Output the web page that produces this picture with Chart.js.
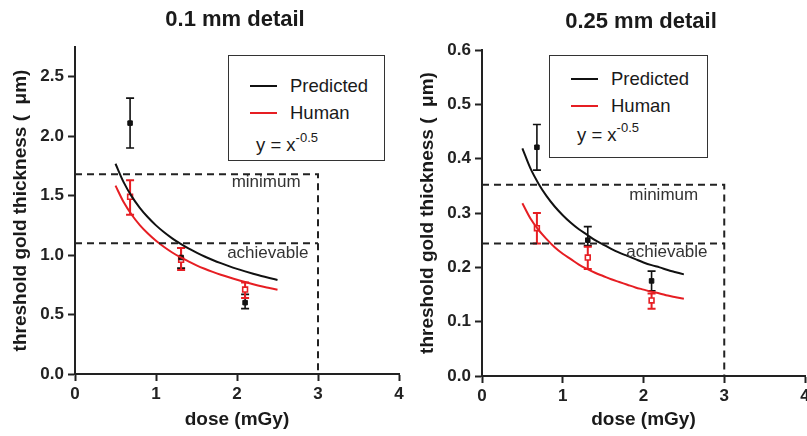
<!DOCTYPE html>
<html>
<head>
<meta charset="utf-8">
<script src="https://cdn.jsdelivr.net/npm/chart.js@4/dist/chart.umd.min.js"></script>
<style>
  html, body { margin: 0; padding: 0; background: #fff; overflow: hidden; width: 807px; height: 436px; }
  body { position: relative; font-family: "Liberation Sans", Arial, sans-serif; }
  canvas { position: absolute; top: 0; }
  .title { position: absolute; font-weight: bold; font-size: 22px; color: #1a1a1a; white-space: nowrap; transform: translateX(-50%); }
  .legend { position: absolute; border: 1.5px solid #333; box-sizing: border-box; background: #fff; }
  .lg-line { position: absolute; height: 2px; }
  .lg-text { position: absolute; font-size: 18.5px; color: #1a1a1a; white-space: nowrap; line-height: 20px; }
  .lg-text sup { font-size: 13px; position: relative; top: -2px; }
</style>
</head>
<body>
<canvas id="c1" width="420" height="436" style="left:0px"></canvas>
<canvas id="c2" width="420" height="436" style="left:400px"></canvas>

<div class="title" style="left:235px; top:6px;">0.1 mm detail</div>
<div class="title" style="left:641px; top:8px;">0.25 mm detail</div>

<div class="legend" style="left:228px; top:55px; width:157px; height:106px;"></div>
<div class="lg-line" style="left:250px; top:85px; width:27px; background:#111;"></div>
<div class="lg-text" style="left:290px; top:76px;">Predicted</div>
<div class="lg-line" style="left:250px; top:112px; width:27px; background:rgb(230,30,35);"></div>
<div class="lg-text" style="left:290px; top:103px;">Human</div>
<div class="lg-text" style="left:256px; top:130px;">y = x<sup>-0.5</sup></div>

<div class="legend" style="left:549px; top:55px; width:159px; height:103px;"></div>
<div class="lg-line" style="left:571px; top:78px; width:27px; background:#111;"></div>
<div class="lg-text" style="left:611px; top:69px;">Predicted</div>
<div class="lg-line" style="left:571px; top:105px; width:27px; background:rgb(230,30,35);"></div>
<div class="lg-text" style="left:611px; top:96px;">Human</div>
<div class="lg-text" style="left:577px; top:120px;">y = x<sup>-0.5</sup></div>

<script>
// ---------- DATA ----------
const doses = [0.68, 1.31, 2.10];

// 0.1 mm detail
const pred01      = [2.11, 0.98, 0.60];
const pred01Low   = [1.90, 0.89, 0.55];
const pred01High  = [2.32, 1.06, 0.67];
const human01     = [1.49, 0.96, 0.71];
const human01Low  = [1.34, 0.875, 0.64];
const human01High = [1.63, 1.06, 0.77];

// 0.25 mm detail
const pred025      = [0.421, 0.250, 0.175];
const pred025Low   = [0.379, 0.240, 0.157];
const pred025High  = [0.463, 0.275, 0.193];
const human025     = [0.272, 0.218, 0.139];
const human025Low  = [0.244, 0.197, 0.124];
const human025High = [0.300, 0.238, 0.152];

// fitted curves (y = a * x^-0.5)
const curveX = [0.5,0.6,0.7,0.8,0.9,1.0,1.1,1.2,1.3,1.4,1.5,1.6,1.7,1.8,1.9,2.0,2.1,2.2,2.3,2.4,2.5];
const curvePred01  = [1.768,1.614,1.494,1.398,1.318,1.250,1.192,1.141,1.096,1.056,1.021,0.988,0.959,0.932,0.907,0.884,0.863,0.843,0.824,0.807,0.791];
const curveHuman01 = [1.584,1.446,1.339,1.252,1.181,1.120,1.068,1.022,0.982,0.947,0.914,0.885,0.859,0.835,0.813,0.792,0.773,0.755,0.738,0.723,0.708];
const curvePred025  = [0.419,0.382,0.354,0.331,0.312,0.296,0.282,0.270,0.260,0.250,0.242,0.234,0.227,0.221,0.215,0.209,0.204,0.200,0.195,0.191,0.187];
const curveHuman025 = [0.318,0.290,0.269,0.252,0.237,0.225,0.215,0.205,0.197,0.190,0.184,0.178,0.173,0.168,0.163,0.159,0.155,0.152,0.148,0.145,0.142];

// threshold levels
const limitDose = 3;
const minimum01 = 1.68, achievable01 = 1.10;
const minimum025 = 0.352, achievable025 = 0.244;

const xTicks = [0, 1, 2, 3, 4];

// ---------- STYLES ----------
const BLACK = '#111111';
const RED = 'rgb(230,30,35)';
const AXIS = '#222222';
const FONT = '"Liberation Sans", Arial, sans-serif';

function pts(xs, ys) { return xs.map((x, i) => ({ x: x, y: ys[i] })); }

const errorBarPlugin = {
  id: 'errorBars',
  beforeDatasetsDraw(chart) {
    const ctx = chart.ctx;
    const xs = chart.scales.x, ys = chart.scales.y;
    chart.data.datasets.forEach((ds) => {
      if (!ds.errLow) return;
      ctx.save();
      ctx.strokeStyle = ds.errColor;
      ctx.lineWidth = ds.errWidth;
      ds.data.forEach((p, i) => {
        const px = xs.getPixelForValue(p.x);
        const lo = ys.getPixelForValue(ds.errLow[i]);
        const hi = ys.getPixelForValue(ds.errHigh[i]);
        const cw = 4;
        ctx.beginPath();
        ctx.moveTo(px, lo); ctx.lineTo(px, hi);
        ctx.moveTo(px - cw, lo); ctx.lineTo(px + cw, lo);
        ctx.moveTo(px - cw, hi); ctx.lineTo(px + cw, hi);
        ctx.stroke();
      });
      ctx.restore();
    });
  }
};

const textPlugin = {
  id: 'levelText',
  afterDatasetsDraw(chart, args, opts) {
    const ctx = chart.ctx;
    const xs = chart.scales.x, ys = chart.scales.y;
    ctx.save();
    ctx.font = '17px ' + FONT;
    ctx.fillStyle = '#333';
    ctx.textAlign = 'center';
    ctx.textBaseline = 'middle';
    (opts.items || []).forEach(it => {
      ctx.fillText(it.text, xs.getPixelForValue(it.x), ys.getPixelForValue(it.y));
    });
    ctx.restore();
  }
};

function makeChart(id, cfg) {
  const datasets = [
    { type: 'line', data: [{x:0,y:cfg.minimum},{x:limitDose,y:cfg.minimum},{x:limitDose,y:0}],
      borderColor: AXIS, borderWidth: 2, borderDash: [7,5], pointRadius: 0, fill: false, tension: 0 },
    { type: 'line', data: [{x:0,y:cfg.achievable},{x:limitDose,y:cfg.achievable}],
      borderColor: AXIS, borderWidth: 2, borderDash: [7,5], pointRadius: 0, fill: false, tension: 0 },
    { type: 'line', data: pts(curveX, cfg.curvePred), borderColor: BLACK, borderWidth: 2,
      pointRadius: 0, fill: false, cubicInterpolationMode: 'monotone' },
    { type: 'line', data: pts(curveX, cfg.curveHuman), borderColor: RED, borderWidth: 2,
      pointRadius: 0, fill: false, cubicInterpolationMode: 'monotone' },
    { type: 'scatter', data: pts(doses, cfg.pred), errLow: cfg.predLow, errHigh: cfg.predHigh,
      errColor: BLACK, errWidth: 1.6, pointStyle: 'rect', pointRadius: 3.2,
      backgroundColor: BLACK, borderColor: BLACK, borderWidth: 1 },
    { type: 'scatter', data: pts(doses, cfg.human), errLow: cfg.humanLow, errHigh: cfg.humanHigh,
      errColor: RED, errWidth: 2, pointStyle: 'rect', pointRadius: 3.4,
      backgroundColor: '#fff', borderColor: RED, borderWidth: 1.6 }
  ];
  return new Chart(document.getElementById(id), {
    type: 'scatter',
    data: { datasets: datasets },
    plugins: [errorBarPlugin, textPlugin],
    options: {
      responsive: false,
      animation: false,
      devicePixelRatio: 1,
      layout: { padding: { left: 0, top: cfg.padTop, right: cfg.padRight, bottom: 0 } },
      plugins: {
        legend: { display: false },
        tooltip: { enabled: false },
        levelText: { items: cfg.labels }
      },
      scales: {
        x: {
          type: 'linear', min: 0, max: 4,
          afterBuildTicks: s => { s.ticks = xTicks.map(v => ({ value: v })); },
          afterFit: s => { s.height = cfg.xHeight; },
          grid: { drawOnChartArea: false, drawTicks: true, tickLength: 7, tickWidth: 2, tickColor: AXIS },
          border: { display: true, color: AXIS, width: 2 },
          ticks: { color: AXIS, padding: 3, font: { family: FONT, size: 17, weight: 'bold' },
                   callback: v => String(v) },
          title: { display: true, text: 'dose (mGy)', color: '#1a1a1a',
                   font: { family: FONT, size: 19, weight: 'bold' }, padding: { top: 0, bottom: 5 } }
        },
        y: {
          type: 'linear', min: 0, max: cfg.yMax,
          afterBuildTicks: s => { s.ticks = cfg.yTicks.map(v => ({ value: v })); },
          afterFit: s => { s.width = cfg.yWidth; },
          grid: { drawOnChartArea: false, drawTicks: true, tickLength: 7, tickWidth: 2, tickColor: AXIS },
          border: { display: true, color: AXIS, width: 2 },
          ticks: { color: AXIS, padding: 4, font: { family: FONT, size: 17, weight: 'bold' },
                   callback: v => Number(v).toFixed(1) },
          title: { display: true, text: 'threshold gold thickness (  μm)', color: '#1a1a1a',
                   font: { family: FONT, size: 19, weight: 'bold' }, padding: { top: cfg.yTitlePad, bottom: 0 } }
        }
      }
    }
  });
}

makeChart('c1', {
  minimum: minimum01, achievable: achievable01,
  curvePred: curvePred01, curveHuman: curveHuman01,
  pred: pred01, predLow: pred01Low, predHigh: pred01High,
  human: human01, humanLow: human01Low, humanHigh: human01High,
  yMax: 2.75, yTicks: [0, 0.5, 1.0, 1.5, 2.0, 2.5],
  padTop: 47, padRight: 21, yWidth: 75, xHeight: 62, yTitlePad: 9,
  labels: [{ text: 'minimum', x: 2.36, y: 1.608 }, { text: 'achievable', x: 2.38, y: 1.018 }]
});

makeChart('c2', {
  minimum: minimum025, achievable: achievable025,
  curvePred: curvePred025, curveHuman: curveHuman025,
  pred: pred025, predLow: pred025Low, predHigh: pred025High,
  human: human025, humanLow: human025Low, humanHigh: human025High,
  yMax: 0.6, yTicks: [0, 0.1, 0.2, 0.3, 0.4, 0.5, 0.6],
  padTop: 50, padRight: 15, yWidth: 82, xHeight: 60, yTitlePad: 16,
  labels: [{ text: 'minimum', x: 2.25, y: 0.333 }, { text: 'achievable', x: 2.29, y: 0.228 }]
});
</script>
</body>
</html>
